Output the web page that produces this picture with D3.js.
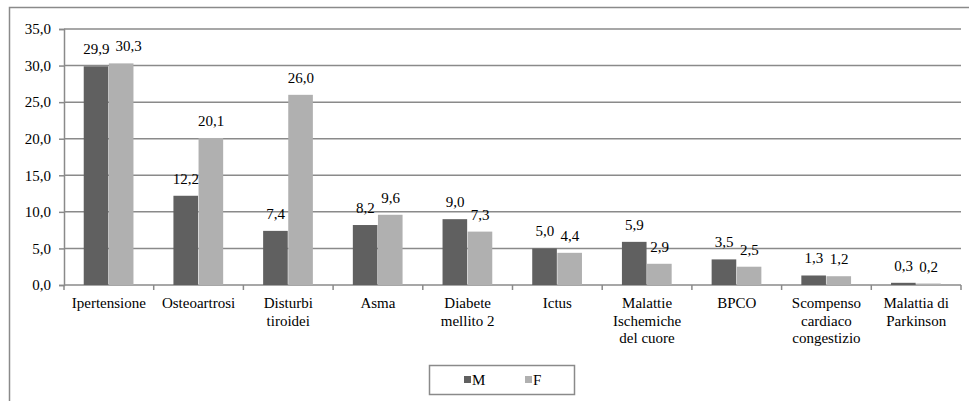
<!DOCTYPE html>
<html>
<head>
<meta charset="utf-8">
<script src="https://cdn.jsdelivr.net/npm/d3@7"></script>
</head>
<body style="margin:0;background:#fff">
<svg id="chart" width="969" height="401"></svg>
<script>
// Prevalence of chronic conditions by sex (%)
const categories = [
  ["Ipertensione"],
  ["Osteoartrosi"],
  ["Disturbi", "tiroidei"],
  ["Asma"],
  ["Diabete", "mellito 2"],
  ["Ictus"],
  ["Malattie", "Ischemiche", "del cuore"],
  ["BPCO"],
  ["Scompenso", "cardiaco", "congestizio"],
  ["Malattia di", "Parkinson"]
];
const seriesNames = ["M", "F"];
const valuesM = [29.9, 12.2, 7.4, 8.2, 9.0, 5.0, 5.9, 3.5, 1.3, 0.3];
const valuesF = [30.3, 20.1, 26.0, 9.6, 7.3, 4.4, 2.9, 2.5, 1.2, 0.2];
const yTicks = [0, 5, 10, 15, 20, 25, 30, 35];
const colors = ["#606060", "#b0b0b0"];

const GRID = "#8a8a8a";
const x0 = 64, x1 = 961, yTop = 29, yBase = 285;

const svg = d3.select("#chart");
const fmt = v => d3.format(".1f")(v).replace(".", ",");

// every label uses the same serif face
function label(sel) {
  return sel.style("font-family", '"Liberation Serif"').style("font-size", "15px").attr("fill", "#000");
}

// outer frame (runs past the right/bottom edges)
svg.append("rect")
  .attr("x", 9.5).attr("y", 7.5)
  .attr("width", 980).attr("height", 420)
  .attr("fill", "none").attr("stroke", GRID).attr("stroke-width", 1.5);

const x = d3.scaleBand()
  .domain(d3.range(categories.length))
  .range([x0, x1])
  .paddingInner(0.44).paddingOuter(0.22);
const xs = d3.scaleBand().domain(seriesNames).range([0, x.bandwidth()]);
const y = d3.scaleLinear().domain([0, 35]).range([yBase, yTop]);

// gridlines
svg.append("g").selectAll("line")
  .data(yTicks.filter(t => t > 0))
  .join("line")
  .attr("x1", x0).attr("x2", x1)
  .attr("y1", d => y(d)).attr("y2", d => y(d))
  .attr("stroke", GRID).attr("stroke-width", 1.5);

// y axis
const yAxis = svg.append("g").attr("transform", `translate(${x0},0)`)
  .call(d3.axisLeft(y).tickValues(yTicks).tickSize(5).tickPadding(8).tickFormat(fmt));
yAxis.attr("font-family", null).attr("font-size", null);
yAxis.select(".domain").attr("stroke", GRID).attr("stroke-width", 1.5);
yAxis.selectAll(".tick line").attr("stroke", GRID).attr("stroke-width", 1.5);
label(yAxis.selectAll(".tick text"));

// x axis baseline with ticks at category boundaries
const step = (x1 - x0) / categories.length;
svg.append("line").attr("x1", x0).attr("x2", x1).attr("y1", yBase).attr("y2", yBase)
  .attr("stroke", GRID).attr("stroke-width", 1.5);
svg.append("g").selectAll("line")
  .data(d3.range(categories.length + 1))
  .join("line")
  .attr("x1", i => x0 + i * step).attr("x2", i => x0 + i * step)
  .attr("y1", yBase).attr("y2", yBase + 5)
  .attr("stroke", GRID).attr("stroke-width", 1.5);

// bars
const rows = categories.map((c, i) => ({ i, vals: [valuesM[i], valuesF[i]] }));
const groups = svg.append("g").selectAll("g")
  .data(rows).join("g")
  .attr("transform", d => `translate(${x(d.i)},0)`);
groups.selectAll("rect")
  .data(d => d.vals.map((v, k) => ({ v, k })))
  .join("rect")
  .attr("x", d => xs(seriesNames[d.k]))
  .attr("y", d => y(d.v))
  .attr("width", xs.bandwidth() - 0.5)
  .attr("height", d => yBase - y(d.v))
  .attr("fill", d => colors[d.k]);
label(groups.selectAll("text")
  .data(d => d.vals.map((v, k) => ({ v, k })))
  .join("text")
  .attr("x", d => xs(seriesNames[d.k]) + xs.bandwidth() / 2)
  .attr("y", d => y(d.v) - 12)
  .attr("text-anchor", "middle")
  .text(d => fmt(d.v)));

// keep the two value labels of a pair from touching when they sit at the same height
groups.each(function () {
  const t = d3.select(this).selectAll("text").nodes();
  if (t.length < 2) return;
  const a = t[0].getBBox(), b = t[1].getBBox();
  const sameRow = Math.abs(a.y - b.y) < a.height * 0.8;
  const gap = b.x - (a.x + a.width);
  if (sameRow && gap < 6) {
    d3.select(t[1]).attr("x", +d3.select(t[1]).attr("x") + (6 - gap));
  }
});

// category labels
const lab = label(svg.append("g").selectAll("text")
  .data(categories).join("text")
  .attr("text-anchor", "middle")
  .attr("transform", (d, i) => `translate(${x(i) + x.bandwidth() / 2},308)`));
lab.selectAll("tspan")
  .data(d => d).join("tspan")
  .attr("x", 0).attr("dy", (d, j) => j === 0 ? 0 : 17.5)
  .text(d => d);

// legend
const lg = svg.append("g");
lg.append("rect").attr("x", 429.5).attr("y", 365.5).attr("width", 145).attr("height", 29)
  .attr("fill", "#fff").attr("stroke", GRID).attr("stroke-width", 1.5);
const lx = [464, 525];
seriesNames.forEach((s, k) => {
  lg.append("rect").attr("x", lx[k]).attr("y", 376).attr("width", 7).attr("height", 7).attr("fill", colors[k]);
  label(lg.append("text").attr("x", lx[k] + 8).attr("y", 385).text(s));
});
</script>
</body>
</html>
